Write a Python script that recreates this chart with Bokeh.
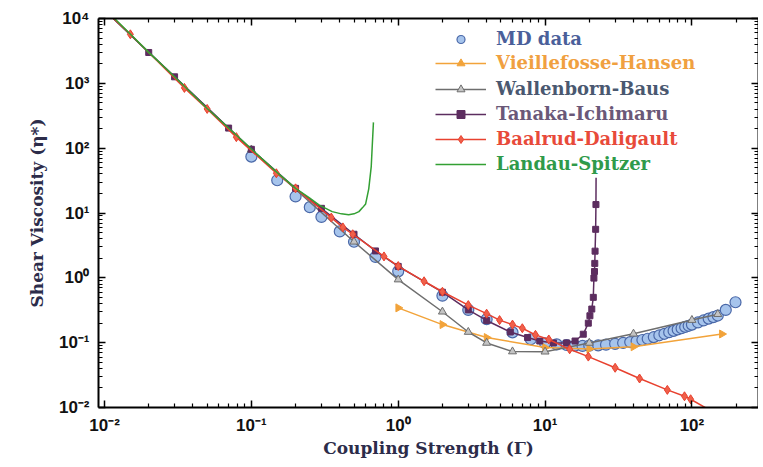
import math
from bokeh.plotting import figure
from bokeh.models import Range1d, LogAxis, FixedTicker, CustomJSTickFormatter, Legend, LegendItem
from bokeh.embed import file_html
from bokeh.resources import INLINE

# ---------------- data ----------------
gam_md = [0.1, 0.15, 0.2, 0.25, 0.3, 0.4, 0.5, 0.7, 1.0, 2.0, 3.0, 4.0, 6.0, 8.0, 10.0,
          12, 14, 16, 18, 20, 23, 26, 30, 34, 38, 42, 46, 50, 55, 60, 65, 70, 75, 80,
          85, 90, 95, 100, 110, 120, 130, 140, 150, 170, 198]
eta_md = [74, 32, 18, 12.3, 8.7, 5.2, 3.6, 2.1, 1.26, 0.53, 0.32, 0.23, 0.144, 0.113, 0.098,
          0.094, 0.092, 0.09, 0.089, 0.09, 0.091, 0.093, 0.096, 0.099, 0.102, 0.106, 0.11,
          0.115, 0.122, 0.13, 0.137, 0.145, 0.152, 0.16, 0.167, 0.175, 0.182, 0.19, 0.205,
          0.22, 0.235, 0.248, 0.262, 0.32, 0.42]

gam_vh = [1, 2, 4, 10, 20, 40, 160]
eta_vh = [0.344, 0.19, 0.12, 0.084, 0.080, 0.0865, 0.136]

gam_wb = [0.01, 0.1, 0.5, 1.0, 2.0, 3.0, 4.0, 6.0, 10.0, 20.0, 40.0, 100.0, 150.0]
eta_wb = [13500, 95, 3.6, 0.94, 0.30, 0.146, 0.099, 0.073, 0.0725, 0.099, 0.137, 0.223, 0.275]

gam_ti = [0.01, 0.02, 0.03, 0.07, 0.1, 0.2, 0.3, 0.5, 0.7, 1.0, 2.0, 3.0, 4.0, 5.8, 7.6,
          9.2, 11.4, 14, 16, 18.2, 19.7, 20.2, 20.8, 21.3, 21.5, 21.7, 21.8, 21.9, 22.1,
          22.2, 22.25]
eta_ti = [13500, 2990, 1260, 204, 96, 24, 11.8, 4.7, 2.6, 1.5, 0.6, 0.32, 0.22, 0.146, 0.12,
          0.106, 0.099, 0.099, 0.106, 0.135, 0.2, 0.26, 0.33, 0.5, 0.99, 1.25, 1.67, 2.58,
          5.6, 13.5, 35]

gam_bd = [0.01, 0.015, 0.035, 0.05, 0.079, 0.148, 0.2, 0.35, 0.42, 0.49, 0.8, 1.0, 1.5,
          2.0, 3.0, 4.0, 4.9, 6.0, 7.0, 8.6, 10.6, 14.7, 19.7, 30, 44, 68, 89, 98, 130]
eta_bd = [13500, 5700, 850, 403, 148, 41, 24, 8.5, 6.0, 4.7, 2.14, 1.52, 0.885, 0.61, 0.38,
          0.28, 0.223, 0.19, 0.167, 0.132, 0.112, 0.079, 0.061, 0.041, 0.028, 0.0187,
          0.0149, 0.0134, 0.0093]

gam_ls = [0.011, 0.02, 0.03, 0.05, 0.07, 0.1, 0.15, 0.2, 0.25, 0.29, 0.355, 0.41, 0.46,
          0.5, 0.54, 0.57, 0.6, 0.63, 0.655, 0.665, 0.678]
eta_ls = [11500, 3000, 1260, 410, 205, 97, 42, 24, 17, 13.2, 10.5, 9.7, 9.4, 9.7, 10.5,
          12, 13.8, 23.6, 52, 105, 250]

x_ticks = [0.01, 0.1, 1, 10, 100]
x_tick_labels = ["10\u207b\u00b2", "10\u207b\u00b9", "10\u2070", "10\u00b9", "10\u00b2"]
y_ticks = [0.01, 0.1, 1, 10, 100, 1000, 10000]
y_tick_labels = ["10\u207b\u00b2", "10\u207b\u00b9", "10\u2070", "10\u00b9", "10\u00b2",
                 "10\u00b3", "10\u2074"]

labels = ["MD data", "Vieillefosse-Hansen", "Wallenborn-Baus", "Tanaka-Ichimaru",
          "Baalrud-Daligault", "Landau-Spitzer"]

# ---------------- figure ----------------
FW, FH = 660, 389
p = figure(x_axis_type="log", y_axis_type="log",
           x_range=Range1d(0.0091, 284), y_range=Range1d(0.01, 10000),
           frame_width=FW, frame_height=FH,
           min_border_left=98, min_border_top=18, min_border_right=0, min_border_bottom=10,
           output_backend="svg", toolbar_location=None, background_fill_color="white",
           border_fill_color="white")
p.outline_line_color = None
p.grid.visible = False

def minor_list(lo, hi):
    out = []
    for e in range(lo, hi + 1):
        for k in range(2, 10):
            out.append(k * 10.0 ** e)
    return out

xt = FixedTicker(ticks=x_ticks, minor_ticks=minor_list(-3, 2))
yt = FixedTicker(ticks=y_ticks, minor_ticks=minor_list(-2, 3))

fmt_code = """
for (let i = 0; i < tv.length; i++) {
  if (Math.abs(Math.log10(tick) - Math.log10(tv[i])) < 1e-6) return tl[i];
}
return "";
"""
xf = CustomJSTickFormatter(args=dict(tv=x_ticks, tl=x_tick_labels), code=fmt_code)
yf = CustomJSTickFormatter(args=dict(tv=y_ticks, tl=y_tick_labels), code=fmt_code)

def style_axis(ax):
    ax.axis_line_width = 2
    ax.axis_line_color = "black"
    ax.major_tick_in = 7
    ax.major_tick_out = 0
    ax.minor_tick_in = 4
    ax.minor_tick_out = 0
    ax.major_tick_line_width = 1.5
    ax.minor_tick_line_width = 1.2
    ax.major_tick_line_color = "black"
    ax.minor_tick_line_color = "black"

xa = p.xaxis[0]
ya = p.yaxis[0]
xa.ticker = xt
xa.formatter = xf
ya.ticker = yt
ya.formatter = yf
for ax in (xa, ya):
    style_axis(ax)
    ax.major_label_text_font = "Liberation Sans"
    ax.major_label_text_font_style = "bold"
    ax.major_label_text_font_size = "17px"
    ax.major_label_text_color = "#111111"
    ax.axis_label_text_font = "DejaVu Serif"
    ax.axis_label_text_font_style = "bold"
    ax.axis_label_text_font_size = "17px"
    ax.axis_label_text_color = "#2c2c4a"
xa.axis_label = "Coupling Strength (\u0393)"
ya.axis_label = "Shear Viscosity (\u03b7*)"
xa.major_label_standoff = 8
xa.axis_label_standoff = 0
ya.major_label_standoff = 9
ya.axis_label_standoff = 9

blank = CustomJSTickFormatter(code="return '';")
top = LogAxis(ticker=xt, formatter=blank, major_label_standoff=0, major_label_text_font_size="1px")
right = LogAxis(ticker=yt, formatter=blank, major_label_standoff=0, major_label_text_font_size="1px")
style_axis(top)
style_axis(right)
p.add_layout(top, "above")
p.add_layout(right, "right")

# ---------------- series ----------------
c_md_fill, c_md_line = "#a6c4ec", "#4a68a8"
c_vh = "#f2a33a"
c_wb = "#6e6e6e"
c_ti = "#5c2d5f"
c_bd = "#e8412f"
c_ls = "#33a033"

r_md = p.scatter(gam_md, eta_md, marker="circle", size=11, fill_color=c_md_fill,
                 line_color=c_md_line, line_width=1.2)

l_vh = p.line(gam_vh, eta_vh, line_color=c_vh, line_width=1.5)
s_vh = p.scatter(gam_vh, eta_vh, marker="triangle", angle=-math.pi / 2, size=8,
                 fill_color=c_vh, line_color=c_vh)

l_wb = p.line(gam_wb, eta_wb, line_color=c_wb, line_width=1.5)
s_wb = p.scatter(gam_wb, eta_wb, marker="triangle", size=8, fill_color="#c4c4c4",
                 line_color=c_wb, line_width=1)

l_ti = p.line(gam_ti, eta_ti, line_color=c_ti, line_width=1.5)
s_ti = p.scatter(gam_ti[:-1], eta_ti[:-1], marker="square", size=6, fill_color=c_ti,
                 line_color=c_ti)

l_bd = p.line(gam_bd, eta_bd, line_color=c_bd, line_width=1.5)
s_bd = p.scatter(gam_bd[:-1], eta_bd[:-1], marker="diamond", size=9, fill_color="#f0604a",
                 line_color=c_bd, line_width=1)

l_ls = p.line(gam_ls, eta_ls, line_color=c_ls, line_width=1.5)

# ---------------- legends (one per entry, each with its own text colour) ----------------
entries = [
    (labels[0], [r_md], "#4a5f9a"),
    (labels[1], [l_vh, s_vh], "#f0a040"),
    (labels[2], [l_wb, s_wb], "#4a5870"),
    (labels[3], [l_ti, s_ti], "#6a5878"),
    (labels[4], [l_bd, s_bd], "#e84a3a"),
    (labels[5], [l_ls], "#2f9a4a"),
]
row_centers = [21, 45, 71, 96, 121, 146]   # px below frame top
for (lab, rends, col), rc in zip(entries, row_centers):
    leg = Legend(items=[LegendItem(label=lab, renderers=rends)],
                 location=(337, FH - rc - 10), padding=0, margin=0, spacing=0,
                 border_line_alpha=0, background_fill_alpha=0,
                 glyph_width=51, glyph_height=20, label_height=20, label_standoff=10,
                 label_text_font="DejaVu Serif", label_text_font_style="bold",
                 label_text_font_size="18px", label_text_color=col,
                 label_text_baseline="middle")
    p.add_layout(leg)

open("out.html", "w").write(file_html(p, INLINE))
